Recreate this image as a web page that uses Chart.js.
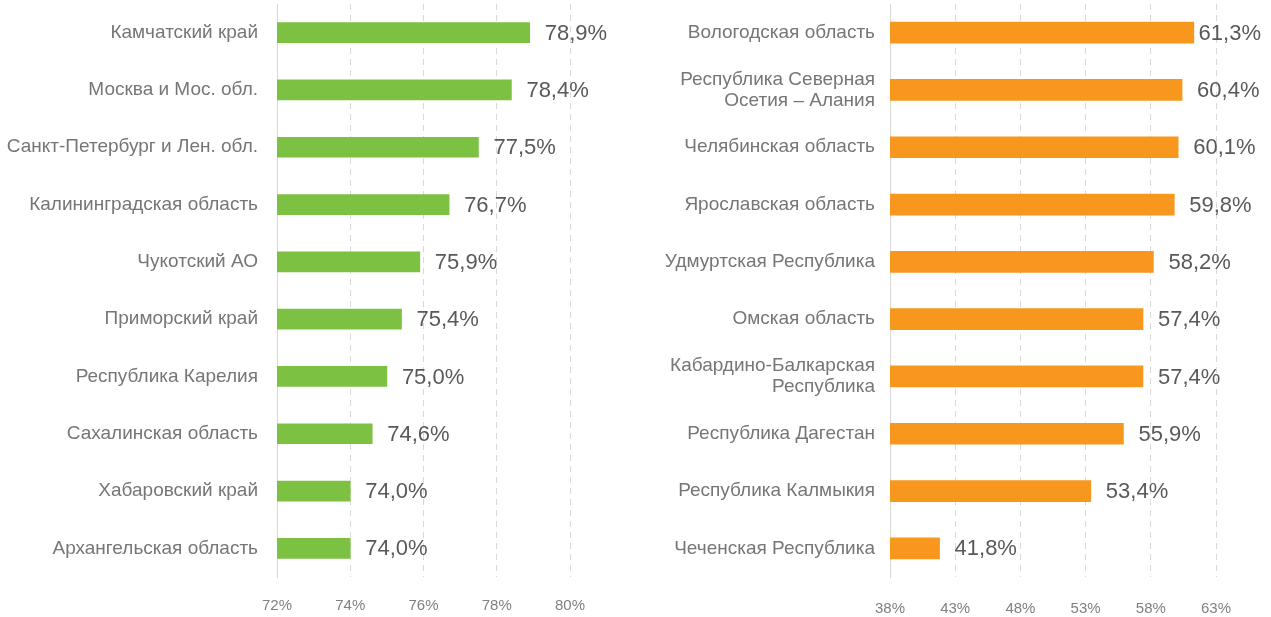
<!DOCTYPE html>
<html>
<head>
<meta charset="utf-8">
<script src="https://cdn.jsdelivr.net/npm/chart.js@4/dist/chart.umd.min.js"></script>
<style>
  html, body { margin: 0; padding: 0; background: #fff; }
  body { width: 1271px; height: 617px; position: relative; overflow: hidden; }
  .box { position: absolute; top: 0; height: 617px; }
  #leftBox { left: 0; width: 640px; }
  #rightBox { left: 635px; width: 636px; }
</style>
</head>
<body>
<div class="box" id="leftBox"><canvas id="leftChart"></canvas></div>
<div class="box" id="rightBox"><canvas id="rightChart"></canvas></div>
<script>
// Top regions (green) and bottom regions (orange), share in percent.
const topRegions = [
  'Камчатский край',
  'Москва и Мос. обл.',
  'Санкт-Петербург и Лен. обл.',
  'Калининградская область',
  'Чукотский АО',
  'Приморский край',
  'Республика Карелия',
  'Сахалинская область',
  'Хабаровский край',
  'Архангельская область'
];
const topValues = [78.9, 78.4, 77.5, 76.7, 75.9, 75.4, 75.0, 74.6, 74.0, 74.0];
const topTicks = [72, 74, 76, 78, 80];

const bottomRegions = [
  'Вологодская область',
  ['Республика Северная', 'Осетия – Алания'],
  'Челябинская область',
  'Ярославская область',
  'Удмуртская Республика',
  'Омская область',
  ['Кабардино-Балкарская', 'Республика'],
  'Республика Дагестан',
  'Республика Калмыкия',
  'Чеченская Республика'
];
const bottomValues = [61.3, 60.4, 60.1, 59.8, 58.2, 57.4, 57.4, 55.9, 53.4, 41.8];
const bottomTicks = [38, 43, 48, 53, 58, 63];

const FONT = "'Liberation Sans', Arial, sans-serif";

// value labels drawn just past each bar end, kept inside the canvas
const valueLabels = {
  id: 'value-labels',
  afterDatasetsDraw(chart) {
    const ctx = chart.ctx;
    const meta = chart.getDatasetMeta(0);
    const data = chart.data.datasets[0].data;
    ctx.save();
    ctx.font = '22px ' + FONT;
    ctx.fillStyle = '#595959';
    ctx.textBaseline = 'middle';
    ctx.textAlign = 'left';
    meta.data.forEach((bar, i) => {
      const text = data[i].toFixed(1).replace('.', ',') + '%';
      const w = ctx.measureText(text).width;
      let x = bar.x + 15;
      if (x + w > chart.width - 10) x = chart.width - 10 - w;
      ctx.fillText(text, x, bar.y + 1);
    });
    ctx.restore();
  }
};

function makeChart(id, labels, values, ticks, color, opts) {
  return new Chart(document.getElementById(id), {
    type: 'bar',
    data: {
      labels: labels,
      datasets: [{
        data: values,
        backgroundColor: color,
        borderWidth: 0,
        barThickness: opts.bar
      }]
    },
    options: {
      indexAxis: 'y',
      responsive: true,
      maintainAspectRatio: false,
      animation: false,
      layout: { padding: { top: 4, right: opts.rightPad, bottom: 0, left: 0 } },
      plugins: { legend: { display: false }, tooltip: { enabled: false } },
      scales: {
        x: {
          type: 'linear',
          min: ticks[0],
          max: ticks[ticks.length - 1],
          afterBuildTicks: (scale) => { scale.ticks = ticks.map((v) => ({ value: v })); },
          afterFit: (scale) => { scale.height = 40; },
          grid: {
            color: (c) => (c.index === 0 ? 'rgba(0,0,0,0)' : '#d9d9d9'),
            lineWidth: 1,
            drawTicks: false
          },
          border: { display: false, dash: [6, 5] },
          ticks: {
            padding: opts.tickPad,
            color: '#808080',
            font: { family: FONT, size: 15 },
            callback: (v) => v + '%'
          }
        },
        y: {
          afterFit: (scale) => {
            scale.width = opts.axisWidth;
            scale.paddingTop = 0;
            scale.paddingBottom = 0;
          },
          grid: { display: false, drawTicks: false },
          border: { display: true, color: '#d9d9d9', width: 1 },
          ticks: {
            padding: opts.labelPad,
            color: '#767676',
            font: { family: FONT, size: 19, lineHeight: 1.1 }
          }
        }
      }
    },
    plugins: [valueLabels]
  });
}

makeChart('leftChart', topRegions, topValues, topTicks, '#7cc142',
  { axisWidth: 277, rightPad: 70, tickPad: 20, labelPad: 19, bar: 20 });
makeChart('rightChart', bottomRegions, bottomValues, bottomTicks, '#f7971e',
  { axisWidth: 255, rightPad: 55, tickPad: 23, labelPad: 15, bar: 21 });
</script>
</body>
</html>
